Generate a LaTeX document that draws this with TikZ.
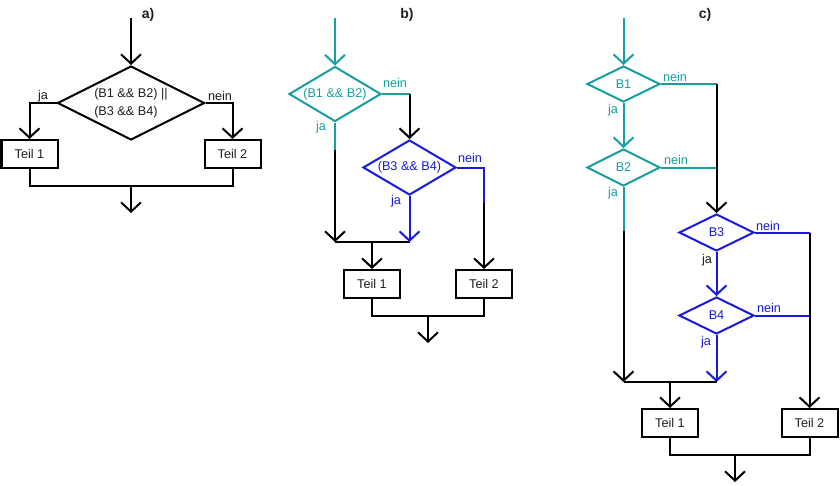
\documentclass[tikz,border=0pt]{standalone}
\usepackage{fontspec}
\setmainfont{Liberation Sans}
\usetikzlibrary{shapes.geometric,arrows.meta}
\definecolor{tealc}{RGB}{24,158,158}
\definecolor{bluec}{RGB}{24,24,224}
\definecolor{txt}{RGB}{30,30,30}
\begin{document}
\begin{tikzpicture}[x=0.75pt,y=-0.75pt,
  line width=1.5pt,
  every node/.style={font=\fontsize{9.5}{13.5}\selectfont,text=txt},
  box/.style={draw,rectangle,minimum width=42pt,minimum height=21pt,inner sep=0pt},
  dec/.style={draw,diamond,inner sep=0pt},
  arr/.style={-{Straight Barb[length=7pt,width=15pt]}},
  lab/.style={inner sep=0pt},
  title/.style={inner sep=0pt,font=\fontsize{10.5}{12}\selectfont\bfseries},
]
\useasboundingbox (0,0) rectangle (840,486);

% ---------------- a) ----------------
\node[title] (ta) at (148,15) {a)};
\coordinate (ain) at (131,18);
\node[dec,minimum width=110.25pt,minimum height=55.5pt,
  label={[align=left]center:{(B1 \&\& B2) ||\\(B3 \&\& B4)}}] (da) at (131,103) {};
\node[box] (a1) at (29.5,154) {Teil 1};
\node[box] (a2) at (232.5,154) {Teil 2};
\coordinate (aj) at (131,186);
\coordinate (aout) at (131,213);
\draw[arr] (ain) -- (da.north);
\draw[arr] (da.west) -| (a1.north);
\draw[arr] (da.east) -| (a2.north);
\draw (a1.south) |- (aj);
\draw (a2.south) |- (aj);
\draw[arr] (aj) -- (aout);
\node[lab] (aja) at (43,96) {ja};
\node[lab] (anein) at (220,96) {nein};

% ---------------- b) ----------------
\node[title] (tb) at (407,15) {b)};
\coordinate (bin) at (335,18);
\node[dec,draw=tealc,minimum width=69pt,minimum height=41.25pt,
  label={[text=tealc]center:(B1 \&\& B2)}] (b1) at (335,94) {};
\node[dec,draw=bluec,minimum width=69.75pt,minimum height=41.25pt,
  label={[text=bluec]center:(B3 \&\& B4)}] (b2) at (409.5,167.5) {};
\node[box] (bt1) at (372,284) {Teil 1};
\node[box] (bt2) at (484,284) {Teil 2};
\coordinate (b1c) at (409.5,94);
\coordinate (b1j) at (335,150);
\coordinate (bm1) at (335,242);
\coordinate (bm2) at (409.5,242);
\coordinate (bm) at (372,242);
\coordinate (b2c) at (484,167.5);
\coordinate (b2b) at (484,203);
\coordinate (bj) at (428,316);
\coordinate (bout) at (428,343);
\draw[arr,tealc] (bin) -- (b1.north);
\draw[tealc] (b1.east) -- (b1c);
\draw[arr] (b1c) -- (b2.north);
\draw[tealc] (b1.south) -- (b1j);
\draw (bm1) -- (bm2);
\draw[arr] (b1j) -- (bm1);
\draw[arr,bluec] (b2.south) -- (bm2);
\draw[arr] (bm) -- (bt1.north);
\draw[bluec] (b2.east) -- (b2c) -- (b2b);
\draw[arr] (b2b) -- (bt2.north);
\draw (bt1.south) |- (bj);
\draw (bt2.south) |- (bj);
\draw[arr] (bj) -- (bout);
\node[lab,text=tealc] (bn1) at (395,83) {nein};
\node[lab,text=tealc] (bj1) at (321,127) {ja};
\node[lab,text=bluec] (bn2) at (470,158) {nein};
\node[lab,text=bluec] (bj2) at (396,201) {ja};

% ---------------- c) ----------------
\node[title] (tc) at (705,15) {c)};
\coordinate (cin) at (623.5,18);
\node[dec,draw=tealc,minimum width=54.75pt,minimum height=27pt,
  label={[text=tealc]center:B1}] (c1) at (623.5,84) {};
\node[dec,draw=tealc,minimum width=54.75pt,minimum height=27.75pt,
  label={[text=tealc]center:B2}] (c2) at (623.5,167.5) {};
\node[dec,draw=bluec,minimum width=56.25pt,minimum height=27.75pt,
  label={[text=bluec]center:B3}] (c3) at (716.5,232.5) {};
\node[dec,draw=bluec,minimum width=56.25pt,minimum height=27.75pt,
  label={[text=bluec]center:B4}] (c4) at (716.5,315.5) {};
\node[box] (ct1) at (670,423) {Teil 1};
\node[box] (ct2) at (809.5,423) {Teil 2};
\coordinate (c1c) at (716.5,84);
\coordinate (c2c) at (716.5,167.5);
\coordinate (c2j) at (623.5,231);
\coordinate (cm1) at (623.5,382);
\coordinate (cm2) at (716.5,382);
\coordinate (cm) at (670,382);
\coordinate (c3c) at (809.5,232.5);
\coordinate (c4c) at (809.5,315.5);
\coordinate (cj) at (735,455);
\coordinate (cout) at (735,482);
\draw[arr,tealc] (cin) -- (c1.north);
\draw[tealc] (c1.east) -- (c1c);
\draw[tealc] (c2.east) -- (c2c);
\draw[arr] (c1c) -- (c3.north);
\draw[arr,tealc] (c1.south) -- (c2.north);
\draw[tealc] (c2.south) -- (c2j);
\draw (cm1) -- (cm2);
\draw[arr] (c2j) -- (cm1);
\draw[arr,bluec] (c3.south) -- (c4.north);
\draw[arr,bluec] (c4.south) -- (cm2);
\draw[bluec] (c3.east) -- (c3c);
\draw[bluec] (c4.east) -- (c4c);
\draw[arr] (c3c) -- (ct2.north);
\draw[arr] (cm) -- (ct1.north);
\draw (ct1.south) |- (cj);
\draw (ct2.south) |- (cj);
\draw[arr] (cj) -- (cout);
\node[lab,text=tealc] (cn1) at (675,77) {nein};
\node[lab,text=tealc] (cj1) at (613,110) {ja};
\node[lab,text=tealc] (cn2) at (676,160) {nein};
\node[lab,text=tealc] (cj2) at (613,193) {ja};
\node[lab,text=bluec] (cn3) at (768,226) {nein};
\node[lab] (cj3) at (707,260) {ja};
\node[lab,text=bluec] (cn4) at (769,308) {nein};
\node[lab,text=bluec] (cj4) at (706,342) {ja};
\end{tikzpicture}
\end{document}
